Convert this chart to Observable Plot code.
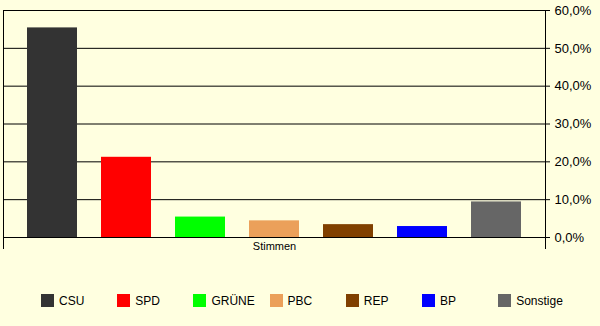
<!DOCTYPE html>
<html>
<head>
<meta charset="utf-8">
<script src="https://cdn.jsdelivr.net/npm/d3@7"></script>
<script src="https://cdn.jsdelivr.net/npm/@observablehq/plot@0.6"></script>
<style>
  html, body { margin: 0; padding: 0; background: #FFFFE0; }
  #wrap { width: 600px; height: 326px; background: #FFFFE0; font-family: "Liberation Sans", Arial, sans-serif; }
  #legend { position: relative; height: 56px; font-size: 12px; color: #000; }
  .item { position: absolute; top: 24px; display: flex; align-items: center; height: 13px; }
  .sw { width: 13px; height: 13px; margin-right: 5px; }
</style>
</head>
<body>
<div id="wrap"></div>
<script>
const parties = ["CSU", "SPD", "GRÜNE", "PBC", "REP", "BP", "Sonstige"];
const values = [55.4, 21.2, 5.4, 4.4, 3.4, 2.9, 9.4];
const colors = ["#333333", "#FF0000", "#00FF00", "#EBA05A", "#804000", "#0000FF", "#666666"];
const categoryLabel = ["Stimmen"];
const yTicks = [0, 10, 20, 30, 40, 50, 60];

const data = parties.map((p, i) => ({party: p, value: values[i]}));
const fmt = d => d.toFixed(1).replace(".", ",") + "%";

const plot = Plot.plot({
  width: 600,
  height: 270,
  marginTop: 10,
  marginBottom: 33,
  marginLeft: 3,
  marginRight: 55,
  style: {background: "#FFFFE0", fontFamily: "Liberation Sans, Arial, sans-serif", fontSize: "12px", color: "#000"},
  x: {domain: parties, padding: 0.324, axis: null},
  y: {domain: [0, 60]},
  color: {domain: parties, range: colors},
  marks: [
    Plot.gridY(yTicks, {stroke: "#000", strokeOpacity: 1}),
    Plot.barY(data, {x: "party", y: "value", fill: "party"}),
    Plot.frame({anchor: "left", insetBottom: -11, stroke: "#000"}),
    Plot.frame({anchor: "right", insetBottom: -11, stroke: "#000"}),
    Plot.axisY(yTicks, {anchor: "right", tickSize: 4, tickPadding: 5, tickFormat: fmt, label: null, stroke: "#000", fontSize: 13}),
    Plot.text(categoryLabel, {frameAnchor: "bottom", dy: 12, fontSize: 11, fill: "#000"})
  ]
});

const wrap = document.getElementById("wrap");
wrap.appendChild(plot);

const legend = document.createElement("div");
legend.id = "legend";
parties.forEach((p, i) => {
  const item = document.createElement("div");
  item.className = "item";
  item.style.left = (41 + i * 76.2) + "px";
  const sw = document.createElement("div");
  sw.className = "sw";
  sw.style.background = colors[i];
  const lab = document.createElement("span");
  lab.textContent = p;
  item.appendChild(sw);
  item.appendChild(lab);
  legend.appendChild(item);
});
wrap.appendChild(legend);
</script>
</body>
</html>
